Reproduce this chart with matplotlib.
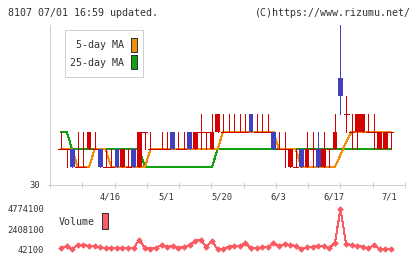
import numpy as np
import matplotlib.pyplot as plt
from matplotlib.patches import Rectangle

plt.rcParams['lines.antialiased'] = False
plt.rcParams['patch.antialiased'] = False
plt.rcParams['font.family'] = 'DejaVu Sans Mono'

# daily candles (price), one per trading day
opens  = [32, 32, 32, 31, 31, 32, 32, 32, 31, 31, 32, 31, 31, 32, 31, 33, 32, 32, 32, 32,
          33, 32, 32, 33, 32, 33, 33, 32, 33, 33, 33, 33, 33, 33, 34, 33, 33, 33, 33, 32,
          32, 31, 31, 32, 31, 32, 32, 31, 32, 32, 36, 34, 33, 33, 33, 33, 33, 32, 32, 33]
highs  = [33, 32, 32, 33, 33, 33, 33, 32, 32, 32, 32, 32, 32, 32, 33, 33, 33, 32, 33, 33,
          33, 33, 33, 33, 33, 34, 33, 34, 34, 34, 34, 34, 34, 34, 34, 34, 34, 34, 33, 33,
          33, 32, 32, 32, 33, 33, 33, 33, 32, 34, 39.5, 35, 34, 34, 34, 34, 34, 33, 33, 33]
lows   = [32, 31, 31, 31, 31, 32, 32, 31, 31, 31, 31, 31, 31, 31, 31, 32, 32, 32, 32, 32,
          32, 32, 32, 32, 32, 32, 32, 32, 33, 33, 33, 33, 33, 33, 33, 33, 33, 33, 32, 32,
          31, 31, 31, 31, 31, 31, 31, 31, 31, 32, 34, 33, 32, 32, 33, 33, 32, 32, 32, 32]
closes = [32, 32, 31, 31, 31, 33, 32, 31, 31, 31, 31, 32, 31, 31, 33, 33, 32, 32, 32, 32,
          32, 32, 32, 32, 33, 33, 33, 33, 34, 33, 33, 33, 33, 33, 33, 33, 33, 33, 32, 32,
          32, 32, 31, 31, 32, 32, 31, 32, 32, 33, 35, 34, 33, 34, 34, 33, 33, 33, 33, 33]

ma5  = [32, 32, 32, 31, 31, 31, 32, 32, 32, 31, 31, 31, 31, 31, 31, 31, 32, 32, 32, 32,
        32, 32, 32, 32, 32, 32, 32, 32, 32, 33, 33, 33, 33, 33, 33, 33, 33, 33, 33, 32,
        32, 32, 32, 31, 31, 31, 31, 31, 31, 31, 31.7, 32.4, 33, 33, 33, 33, 33, 33, 33, 33]
ma25 = [33, 33, 32, 32, 32, 32, 32, 32, 32, 32, 32, 32, 32, 32, 32, 31, 31, 31, 31, 31,
        31, 31, 31, 31, 31, 31, 31, 31, 32, 32, 32, 32, 32, 32, 32, 32, 32, 32, 32, 32,
        32, 32, 32, 32, 32, 32, 32, 32, 32, 32, 32, 32, 32, 32, 32, 32, 32, 32, 32, 32]

volume = [198100, 394100, 52100, 590100, 590100, 394100, 394100, 277100, 198100, 198100,
          198100, 198100, 198100, 198100, 1180100, 198100, 120100, 198100, 590100, 316100,
          472100, 198100, 316100, 511100, 980100, 1180100, 316100, 980100, 80100, 120100,
          330100, 433100, 433100, 746100, 160100, 160100, 277100, 277100, 746100, 433100,
          668100, 550100, 433100, 42100, 277100, 277100, 433100, 433100, 160100, 824100,
          4774100, 668100, 550100, 433100, 355100, 160100, 550100, 60100, 80100, 80100]

date_labels = ['4/16', '5/1', '5/20', '6/3', '6/17', '7/1']
date_idx = [9, 19, 29, 39, 49, 59]
vol_ticks = [42100, 2408100, 4774100]

RED = '#d40000'
BLUE = '#4040c0'
ORANGE = '#f0900a'
GREEN = '#10a010'
SALMON = '#fa5a62'
GRAY = '#d0d0d0'
TXT = '#333333'
PX = 0.72  # one pixel in points

W, H = 420, 259
fig = plt.figure(figsize=(W / 100, H / 100), dpi=100)


def box(x0, y0, x1, y1):
    return [x0 / W, 1 - y1 / H, (x1 - x0) / W, (y1 - y0) / H]


xlim = (-1.97, 61.54)

# ---- price panel
ax = fig.add_axes(box(50, 25, 405, 185))
x = np.arange(len(opens))
o, h, l, c = (np.array(a, dtype=float) for a in (opens, highs, lows, closes))
up, down, flat = c > o, c < o, c == o

ax.plot(x, ma25, color=GREEN, lw=PX, zorder=1)
ax.plot(x, ma5, color=ORANGE, lw=PX, zorder=1)

ax.vlines(x, l, h, colors=np.where(down, BLUE, RED), lw=PX, zorder=2)
ax.bar(x[up], (c - o)[up], bottom=o[up], width=0.86, color=RED, zorder=3)
ax.bar(x[down], (o - c)[down], bottom=c[down], width=0.86, color=BLUE, zorder=3)
ax.hlines(o[flat], x[flat] - 0.45, x[flat] + 0.45, colors=RED, lw=PX, zorder=3)

ax.set_xlim(*xlim)
ax.set_ylim(30, 39)
for s in ('top', 'right'):
    ax.spines[s].set_visible(False)
for s in ('left', 'bottom'):
    ax.spines[s].set_color(GRAY)
    ax.spines[s].set_linewidth(PX)
ax.set_xticks(np.linspace(xlim[0], xlim[1], 12))
ax.set_xticklabels([])
ax.tick_params(axis='x', direction='inout', length=5, color=GRAY, width=PX)
ax.set_yticks([30])
ax.set_yticklabels(['30'])
ax.tick_params(axis='y', length=2.5, color=GRAY, width=PX, pad=5, labelsize=6.3, labelcolor=TXT)

for lab, i in zip(date_labels, date_idx):
    ax.text(i - 0.2, -0.075, lab, transform=ax.get_xaxis_transform(),
            ha='center', va='center', fontsize=6.3, color=TXT)

# ---- volume panel
pp = (vol_ticks[2] - vol_ticks[0]) / (249.3 - 209)
av = fig.add_axes(box(50, 205, 405, 253))
av.plot(x, volume, color=SALMON, lw=PX, marker='D', markersize=3.4,
        markeredgewidth=0)
av.set_xlim(*xlim)
av.set_ylim(vol_ticks[0] - (253 - 249.3) * pp, vol_ticks[2] + (209 - 205) * pp)
av.set_xticks([])
av.set_yticks(vol_ticks)
av.set_yticklabels([str(v) for v in vol_ticks])
av.tick_params(axis='y', length=0, pad=4.3, labelsize=6.3, labelcolor=TXT)
for s in av.spines.values():
    s.set_visible(False)
av.patch.set_alpha(0)

# ---- overlay: header, legends
ov = fig.add_axes([0, 0, 1, 1])
ov.set_xlim(0, W)
ov.set_ylim(H, 0)
ov.axis('off')
ov.patch.set_alpha(0)

ov.text(8, 12.5, '8107 07/01 16:59 updated.', ha='left', va='center', fontsize=7.2, color=TXT)
ov.text(411, 12.5, '(C)https://www.rizumu.net/', ha='right', va='center', fontsize=7.2, color=TXT)

ov.add_patch(Rectangle((65, 30), 78, 47, facecolor='white', edgecolor=GRAY, lw=PX))
ov.text(124.5, 45, '5-day MA', ha='right', va='center', fontsize=7.2, color=TXT)
ov.text(124.5, 62.5, '25-day MA', ha='right', va='center', fontsize=7.2, color=TXT)
ov.add_patch(Rectangle((131, 37.5), 6, 14.5, facecolor=ORANGE, edgecolor='#333333', lw=PX))
ov.add_patch(Rectangle((131, 55), 6, 14, facecolor=GREEN, edgecolor='#333333', lw=PX))

ov.text(59, 222, 'Volume', ha='left', va='center', fontsize=7.2, color=TXT)
ov.add_patch(Rectangle((102, 213), 6, 16, facecolor=SALMON, edgecolor='#333333', lw=PX))

fig.savefig('out.png', dpi=100)
